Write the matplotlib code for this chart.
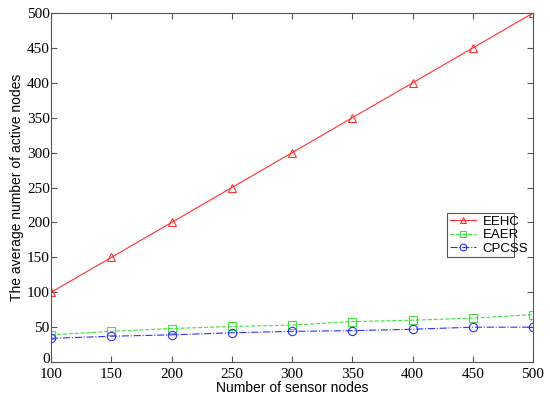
import matplotlib
matplotlib.use("Agg")
import matplotlib.pyplot as plt
import matplotlib.transforms as mtransforms

# Data
sensor_nodes = [100, 150, 200, 250, 300, 350, 400, 450, 500]
eehc = [100, 150, 200, 250, 300, 350, 400, 450, 500]
eaer = [39, 44, 48, 51, 53, 58, 60, 63, 68]
cpcss = [34, 37, 39, 42, 44, 45, 47, 50, 50]

fig = plt.figure(figsize=(5.5, 3.97), dpi=100)
ax = fig.add_axes([0.093, 0.088, 0.876, 0.879])

ax.plot(sensor_nodes, eehc, color='#ff3030', lw=0.8, marker='^', markersize=6,
        markerfacecolor='none', markeredgewidth=0.8, label='EEHC')
ax.plot(sensor_nodes, eaer, color='#40e040', lw=0.8, ls='--', marker='s', markersize=6,
        markerfacecolor='none', markeredgewidth=0.8, label='EAER')
ax.plot(sensor_nodes, cpcss, color='#3030ff', lw=0.8, ls='-.', marker='o', markersize=6,
        markerfacecolor='none', markeredgewidth=0.8, label='CPCSS')

ax.set_xlim(100, 500)
ax.set_ylim(0, 500)
ax.set_xticks(range(100, 501, 50))
ax.set_yticks(range(0, 501, 50))

for s in ax.spines.values():
    s.set_color('#555555')
    s.set_linewidth(0.8)
ax.tick_params(direction='in', top=True, right=True, length=4, color='#555555',
               labelsize=11, pad=2)
ax.tick_params(axis='x', pad=4)
ax.tick_params(axis='y', pad=1)
for lbl in ax.get_xticklabels() + ax.get_yticklabels():
    lbl.set_fontfamily('Liberation Serif')

# lift the "0" a bit so it sits above the "100" like in the original
zero_lbl = ax.get_yticklabels()[0]
zero_lbl.set_transform(zero_lbl.get_transform() +
                       mtransforms.ScaledTranslation(0, 3 / 72, fig.dpi_scale_trans))

ax.set_xlabel('Number of sensor nodes', family='Liberation Sans', fontsize=10, labelpad=0)
ax.set_ylabel('The average number of active nodes', family='Liberation Sans', fontsize=10, labelpad=2)

leg = ax.legend(loc='lower left', bbox_to_anchor=(0.822, 0.30, 0.138, 0.113), mode='expand',
                prop={'family': 'Liberation Sans', 'size': 9.5}, fancybox=False,
                edgecolor='#555555', framealpha=1, borderpad=0.2, labelspacing=0.1,
                handlelength=2.0, handletextpad=0.5, borderaxespad=0, markerscale=0.8)
leg.get_frame().set_linewidth(0.8)

fig.savefig('out.png', dpi=100)
